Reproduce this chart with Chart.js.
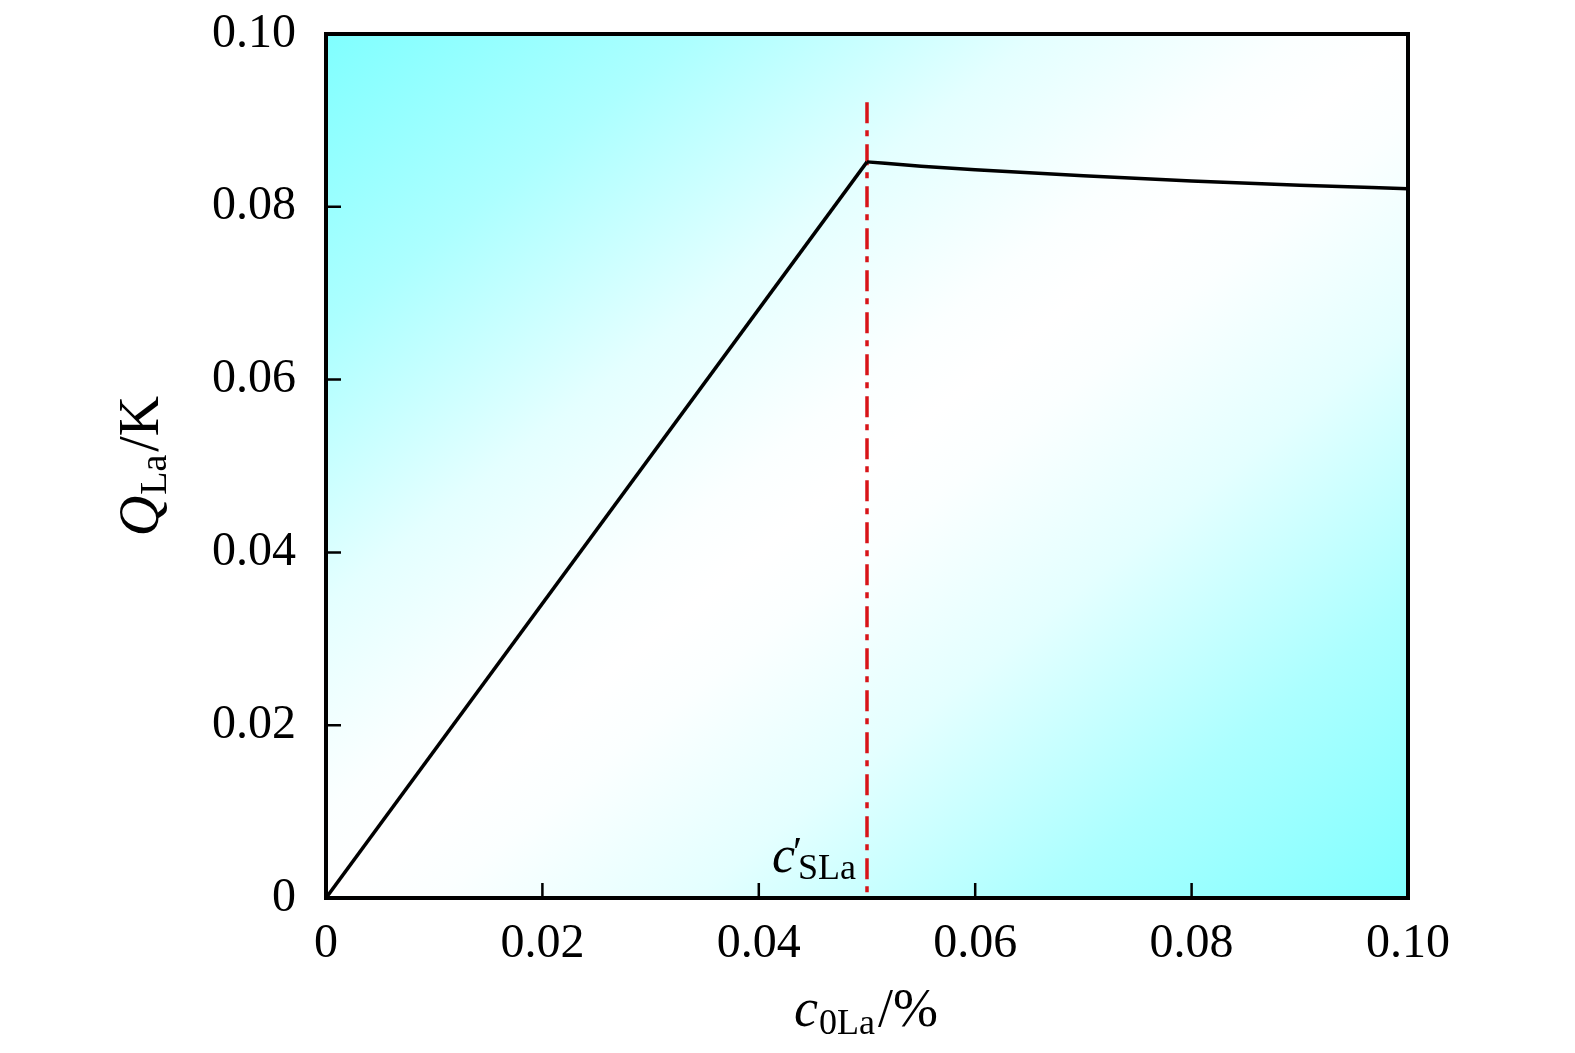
<!DOCTYPE html>
<html>
<head>
<meta charset="utf-8">
<script src="https://cdn.jsdelivr.net/npm/chart.js@4.4.1/dist/chart.umd.min.js"></script>
<style>
  html, body { margin: 0; padding: 0; background: #fff; }
  #wrap { width: 1575px; height: 1053px; }
</style>
</head>
<body>
<div id="wrap"><canvas id="c"></canvas></div>
<script>
// data
const riseX = [0, 0.05];
const riseY = [0, 0.0852];
const tailX = [0.05, 0.055, 0.06, 0.07, 0.08, 0.09, 0.10];
const tailY = [0.0852, 0.0847, 0.0843, 0.0836, 0.0830, 0.0825, 0.0821];
const markX = [0.05, 0.05];
const markY = [0.0921, 0];
const xTicks = [0, 0.02, 0.04, 0.06, 0.08, 0.10];
const yTicks = [0, 0.02, 0.04, 0.06, 0.08, 0.10];

const SERIF = "'Liberation Serif', 'DejaVu Serif', serif";
const fmt = v => (v === 0 ? "0" : v.toFixed(2));
const pts = (xs, ys) => xs.map((x, i) => ({ x: x, y: ys[i] }));

// cyan -> white -> cyan background across the plot box
const fade = [[0, "#80ffff"], [0.17, "#acffff"], [0.25, "#c8ffff"], [0.33, "#e4ffff"], [0.45, "#fbffff"], [0.5, "#ffffff"]];
const backdrop = {
    id: "backdrop",
    beforeDraw(chart) {
        const { ctx, chartArea: a } = chart;
        ctx.save();
        ctx.translate(a.left, a.top);
        ctx.scale(a.right - a.left, a.bottom - a.top);
        const g = ctx.createLinearGradient(0, 0, 1, 1);
        fade.forEach(s => {
            g.addColorStop(s[0], s[1]);
            g.addColorStop(1 - s[0], s[1]);
        });
        ctx.fillStyle = g;
        ctx.fillRect(0, 0, 1, 1);
        ctx.restore();
    }
};

// box, inward ticks and the math-style labels
const frame = {
    id: "frame",
    afterDraw(chart) {
        const { ctx, chartArea: a, scales } = chart;
        ctx.save();
        ctx.strokeStyle = "#000";
        ctx.lineWidth = 2.5;
        ctx.beginPath();
        xTicks.slice(1, -1).forEach(v => {
            const px = scales.x.getPixelForValue(v);
            ctx.moveTo(px, a.bottom);
            ctx.lineTo(px, a.bottom - 15);
        });
        yTicks.slice(1, -1).forEach(v => {
            const py = scales.y.getPixelForValue(v);
            ctx.moveTo(a.left, py);
            ctx.lineTo(a.left + 15, py);
        });
        ctx.stroke();
        ctx.lineWidth = 4;
        ctx.strokeRect(a.left, a.top, a.right - a.left, a.bottom - a.top);

        ctx.fillStyle = "#000";
        ctx.textBaseline = "alphabetic";

        // pieces: [text, font, dy, extra gap]
        const drawRun = (parts, x, y) => {
            let cx = x;
            parts.forEach(p => {
                ctx.font = p[1];
                ctx.fillText(p[0], cx, y + p[2]);
                cx += ctx.measureText(p[0]).width + (p[3] || 0);
            });
        };
        const runWidth = parts => {
            let w = 0;
            parts.forEach(p => { ctx.font = p[1]; w += ctx.measureText(p[0]).width + (p[3] || 0); });
            return w;
        };

        ctx.textAlign = "left";
        // x title
        const xt = [["c", "italic 54px " + SERIF, 0, 1], ["0La", "36px " + SERIF, 8, 3], ["/%", "54px " + SERIF, 0]];
        const xw = runWidth(xt);
        drawRun(xt, 866 - xw / 2, 1026);

        // y title, rotated
        const yt = [["Q", "italic 56px " + SERIF, 0, 1], ["La", "38px " + SERIF, 8, 3], ["/K", "56px " + SERIF, 0]];
        const yw = runWidth(yt);
        ctx.save();
        ctx.translate(158, 466);
        ctx.rotate(-Math.PI / 2);
        drawRun(yt, -yw / 2, 0);
        ctx.restore();

        // marker label c'_SLa
        const lx = scales.x.getPixelForValue(0.05) - 95;
        ctx.font = "italic 52px " + SERIF;
        ctx.fillText("c", lx, 872);
        ctx.font = "42px " + SERIF;
        ctx.fillText("\u2032", lx + 21, 866);
        ctx.font = "36px " + SERIF;
        ctx.fillText("SLa", lx + 26, 879);
        ctx.restore();
    }
};

new Chart(document.getElementById("c"), {
    type: "line",
    data: {
        datasets: [
            {
                data: pts(riseX, riseY),
                borderColor: "#000",
                borderWidth: 3.5,
                pointRadius: 0,
                tension: 0
            },
            {
                data: pts(tailX, tailY),
                borderColor: "#000",
                borderWidth: 3.5,
                pointRadius: 0,
                cubicInterpolationMode: "monotone"
            },
            {
                data: pts(markX, markY),
                borderColor: "#d81418",
                borderWidth: 3.5,
                borderDash: [21, 7, 6, 8],
                pointRadius: 0,
                tension: 0
            }
        ]
    },
    options: {
        responsive: true,
        maintainAspectRatio: false,
        animation: false,
        layout: { padding: { top: 34, right: 167, left: 0, bottom: 0 } },
        plugins: { legend: { display: false }, tooltip: { enabled: false } },
        scales: {
            x: {
                type: "linear",
                min: 0,
                max: 0.1,
                afterBuildTicks: s => { s.ticks = xTicks.map(v => ({ value: v })); },
                afterFit: s => { s.height = 1053 - 898; s.paddingLeft = 0; s.paddingRight = 0; },
                grid: { display: false },
                border: { display: false },
                ticks: {
                    color: "#000",
                    font: { family: SERIF, size: 48 },
                    padding: 10,
                    maxRotation: 0,
                    callback: v => fmt(v)
                }
            },
            y: {
                type: "linear",
                min: 0,
                max: 0.1,
                afterBuildTicks: s => { s.ticks = yTicks.map(v => ({ value: v })); },
                afterFit: s => { s.width = 326; s.paddingTop = 0; s.paddingBottom = 0; },
                grid: { display: false },
                border: { display: false },
                ticks: {
                    color: "#000",
                    font: { family: SERIF, size: 48 },
                    padding: 22,
                    callback: v => fmt(v)
                }
            }
        }
    },
    plugins: [backdrop, frame]
});
</script>
</body>
</html>
